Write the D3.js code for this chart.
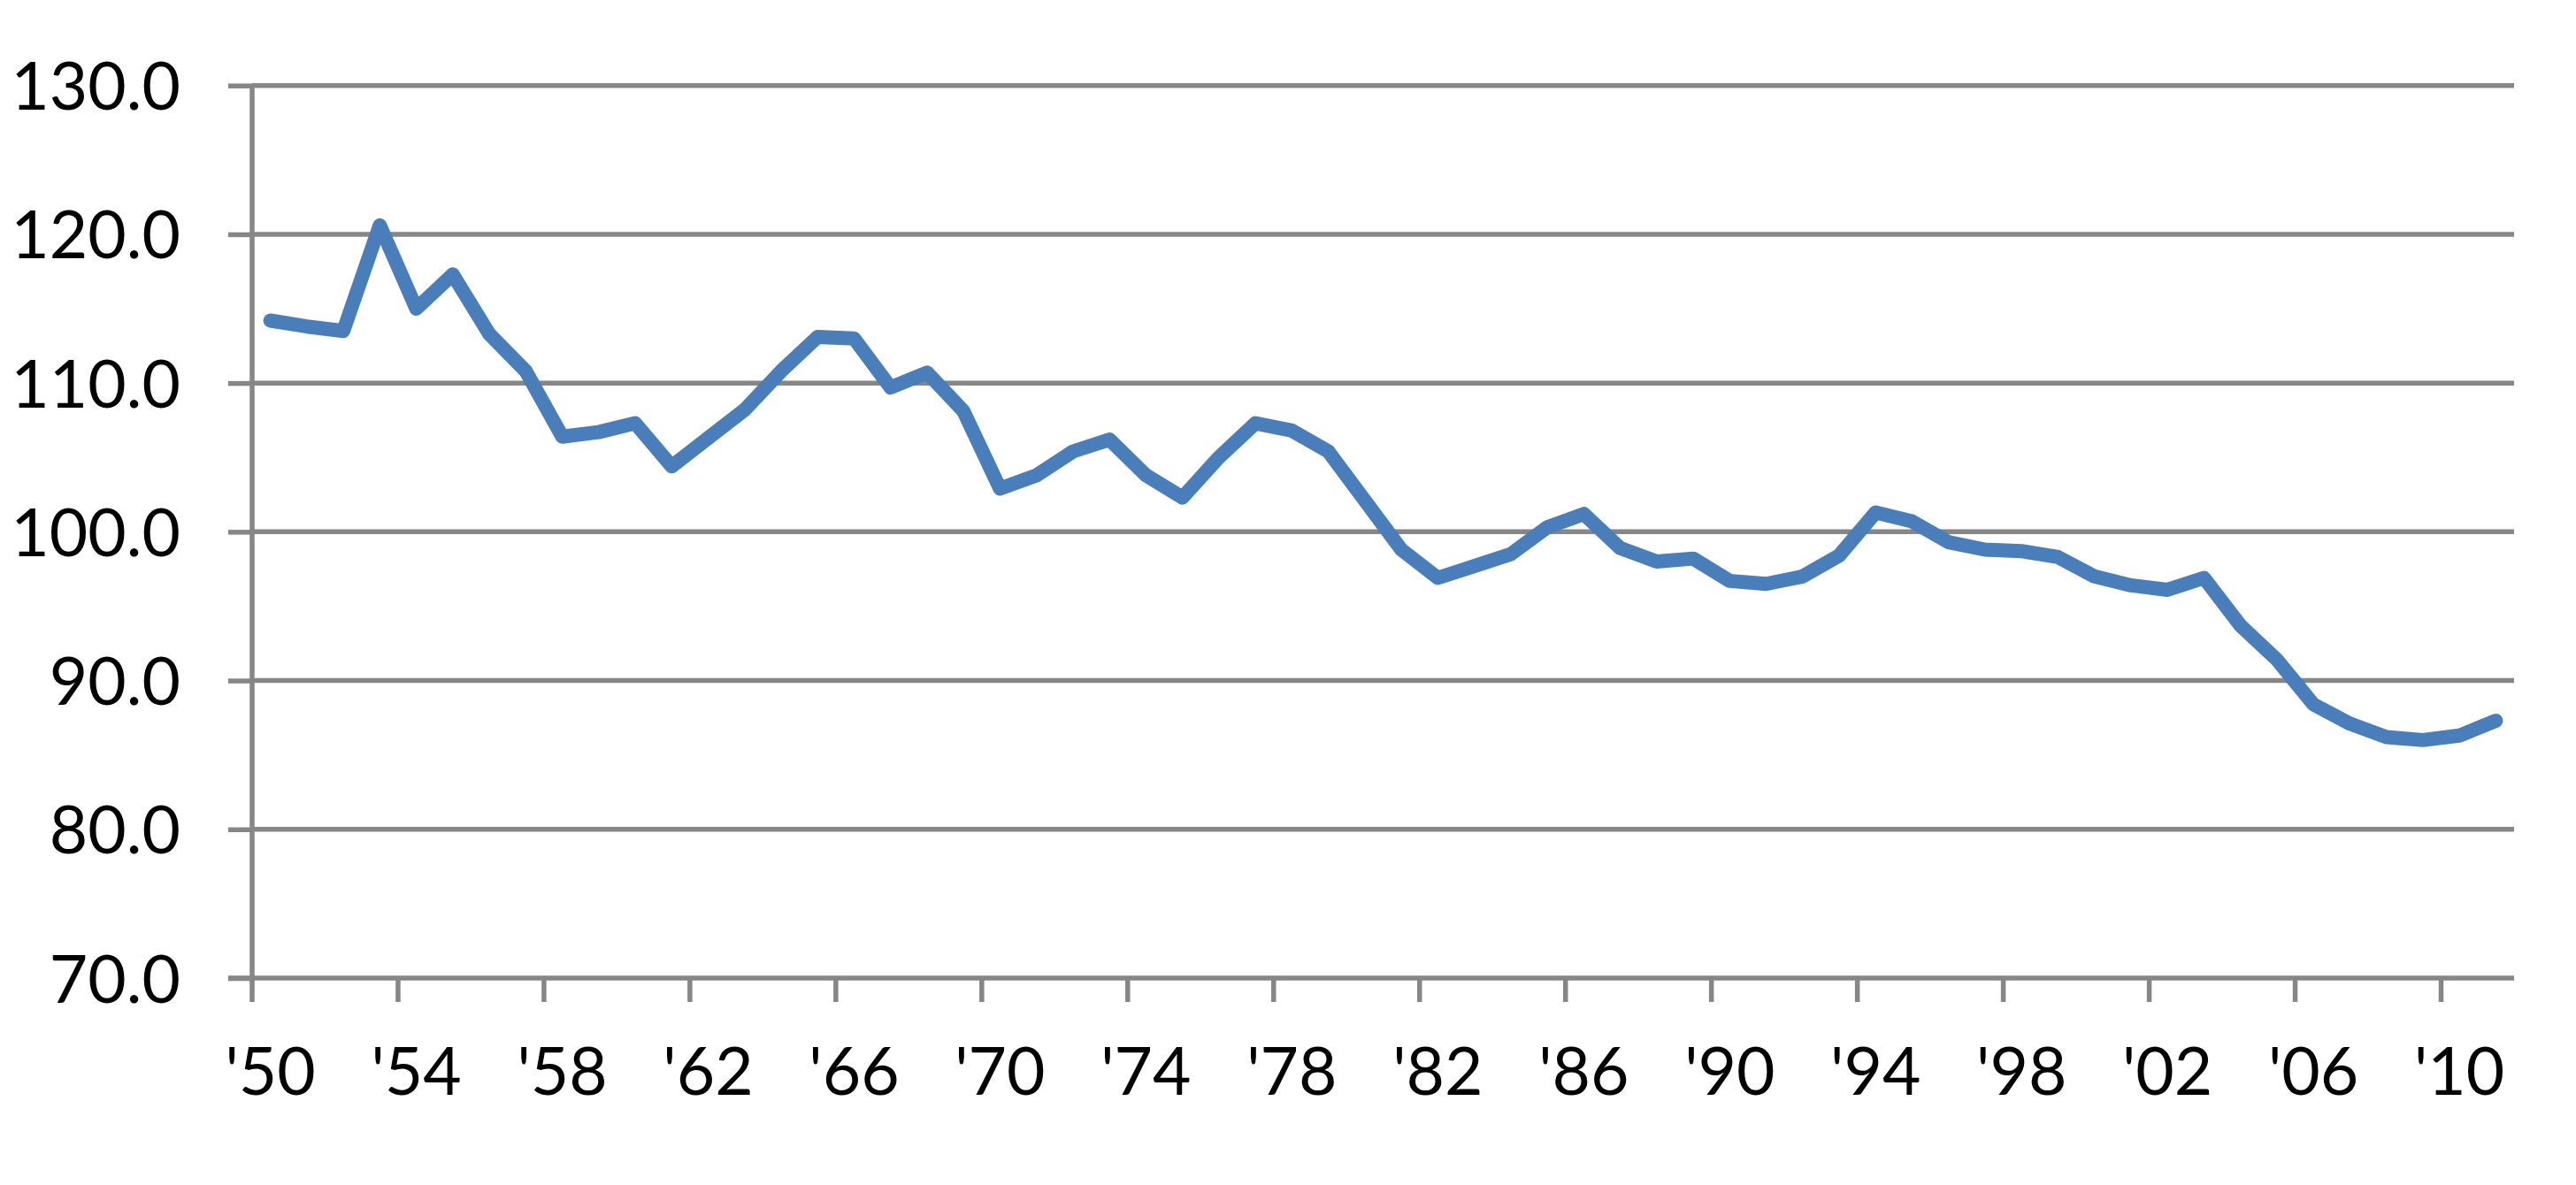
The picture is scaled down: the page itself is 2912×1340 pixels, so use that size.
<!DOCTYPE html>
<html>
<head>
<meta charset="utf-8">
<script src="https://cdn.jsdelivr.net/npm/d3@7"></script>
<style>
  html, body { margin: 0; padding: 0; background: #ffffff; }
  svg { display: block; }
</style>
</head>
<body>
<svg id="chart" width="2912" height="1340"></svg>
<script>
// ---- Data ----
const years = [1950,1951,1952,1953,1954,1955,1956,1957,1958,1959,
               1960,1961,1962,1963,1964,1965,1966,1967,1968,1969,
               1970,1971,1972,1973,1974,1975,1976,1977,1978,1979,
               1980,1981,1982,1983,1984,1985,1986,1987,1988,1989,
               1990,1991,1992,1993,1994,1995,1996,1997,1998,1999,
               2000,2001,2002,2003,2004,2005,2006,2007,2008,2009,
               2010,2011];
const values = [114.2,113.8,113.5,120.6,115.0,117.3,113.3,110.8,106.4,106.7,
                107.3,104.4,106.3,108.2,110.8,113.1,113.0,109.7,110.7,108.1,
                102.9,103.8,105.4,106.2,103.8,102.3,105.0,107.3,106.8,105.4,
                102.1,98.8,96.9,97.7,98.5,100.3,101.2,98.9,98.0,98.2,
                96.7,96.5,97.0,98.4,101.3,100.7,99.3,98.8,98.7,98.3,
                97.0,96.4,96.1,96.9,93.7,91.4,88.4,87.1,86.2,86.0,
                86.3,87.3];
const labelYears = [1950,1954,1958,1962,1966,1970,1974,1978,1982,1986,1990,1994,1998,2002,2006,2010];
const labelTexts = ["'50","'54","'58","'62","'66","'70","'74","'78","'82","'86","'90","'94","'98","'02","'06","'10"];
const yTicks = [70,80,90,100,110,120,130];

(function () {
// ---- Layout ----
const plotLeft = 285, plotRight = 2842, plotTop = 96.7, plotBottom = 1106;
const gridColor = "#868686";
const fontFamily = "Lato, 'Liberation Sans', sans-serif";

const svg = d3.select("#chart");

const x = d3.scaleBand().domain(years).range([plotLeft, plotRight]).paddingInner(0).paddingOuter(0);
const y = d3.scaleLinear().domain([70, 130]).range([plotBottom, plotTop]);
const bw = x.bandwidth();

// Gridlines
svg.append("g").selectAll("line")
  .data(yTicks.filter(d => d !== 70))
  .join("line")
  .attr("x1", plotLeft).attr("x2", plotRight)
  .attr("y1", d => y(d)).attr("y2", d => y(d))
  .attr("stroke", gridColor).attr("stroke-width", 5.5);

// Y axis
const yAxis = svg.append("g")
  .attr("transform", `translate(${plotLeft},0)`)
  .call(d3.axisLeft(y).tickValues(yTicks).tickSize(27).tickPadding(54).tickFormat(d3.format(".1f")));
yAxis.select(".domain").remove();
yAxis.selectAll(".tick line").attr("stroke", gridColor).attr("stroke-width", 5.5);
yAxis.selectAll(".tick text")
  .attr("font-family", fontFamily).attr("font-size", 75).attr("fill", "#000")
  .attr("dy", "0.36em");
yAxis.append("line")
  .attr("x1", 0).attr("x2", 0).attr("y1", plotTop).attr("y2", plotBottom)
  .attr("stroke", gridColor).attr("stroke-width", 5.5);

// X axis
const labelMap = new Map(labelYears.map((d, i) => [d, labelTexts[i]]));
const xAxis = svg.append("g")
  .attr("transform", `translate(0,${plotBottom})`)
  .call(d3.axisBottom(x).tickValues(labelYears).tickSize(27).tickFormat(d => labelMap.get(d)));
xAxis.select(".domain").remove();
xAxis.append("line")
  .attr("x1", plotLeft - 27).attr("x2", plotRight).attr("y1", 0).attr("y2", 0)
  .attr("stroke", gridColor).attr("stroke-width", 5.5);
xAxis.selectAll(".tick line")
  .attr("x1", -bw / 2).attr("x2", -bw / 2)
  .attr("stroke", gridColor).attr("stroke-width", 5.5);
xAxis.selectAll(".tick text")
  .attr("font-family", fontFamily).attr("font-size", 75).attr("fill", "#000")
  .attr("y", 132).attr("dy", "0");

// Line
const pts = years.map((yr, i) => ({ year: yr, value: values[i] }));
const line = d3.line()
  .x(d => x(d.year) + bw / 2)
  .y(d => y(d.value));
svg.append("path")
  .datum(pts)
  .attr("d", line)
  .attr("fill", "none")
  .attr("stroke", "#4A7EBB")
  .attr("stroke-width", 16)
  .attr("stroke-linejoin", "round")
  .attr("stroke-linecap", "round");
})();
</script>
</body>
</html>
